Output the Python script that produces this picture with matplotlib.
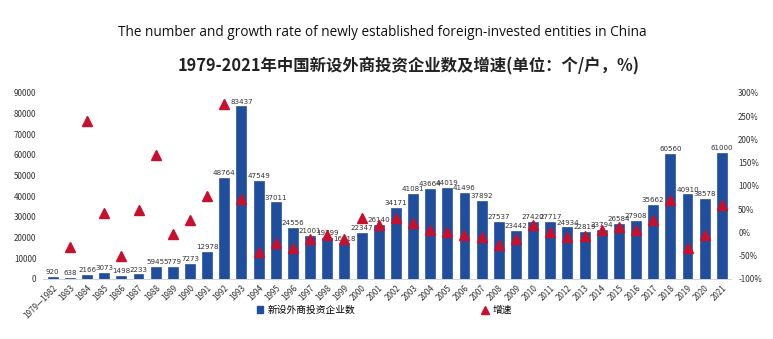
import numpy as np
import matplotlib
matplotlib.use("Agg")
from matplotlib import pyplot as plt
from matplotlib.ticker import FuncFormatter
from matplotlib.lines import Line2D
from matplotlib.patches import Patch

plt.rcParams['font.family'] = ['Noto Sans CJK SC', 'DejaVu Sans']

years = ["1979—1982", "1983", "1984", "1985", "1986", "1987", "1988", "1989",
         "1990", "1991", "1992", "1993", "1994", "1995", "1996", "1997", "1998",
         "1999", "2000", "2001", "2002", "2003", "2004", "2005", "2006", "2007",
         "2008", "2009", "2010", "2011", "2012", "2013", "2014", "2015", "2016",
         "2017", "2018", "2019", "2020", "2021"]

# 新设外商投资企业数
counts = [920, 638, 2166, 3073, 1498, 2233, 5945, 5779, 7273, 12978, 48764,
          83437, 47549, 37011, 24556, 21001, 19799, 16918, 22347, 26140, 34171,
          41081, 43664, 44019, 41496, 37892, 27537, 23442, 27420, 27717, 24934,
          22819, 23794, 26584, 27908, 35662, 60560, 40910, 38578, 61000]

# 增速 (%), у первой категории нет
growth = [np.nan, -30.7, 239.5, 41.9, -51.3, 49.1, 166.2, -2.8, 25.9, 78.4,
          275.7, 71.1, -43.0, -22.2, -33.7, -14.5, -5.7, -14.6, 32.1, 17.0,
          30.7, 20.2, 6.3, 0.8, -5.7, -8.7, -27.3, -14.9, 17.0, 1.1, -10.0,
          -8.5, 4.3, 11.7, 5.0, 27.8, 69.8, -32.4, -5.7, 58.1]

blue = '#1f4e9e'
red = '#c8102e'

fig = plt.figure(figsize=(7.73, 3.39), dpi=100)
ax = fig.add_axes([0.056, 0.177, 0.89, 0.549])
x = np.arange(len(years))

ax.bar(x, counts, width=0.58, color=blue, edgecolor='#163c80', linewidth=0.4, zorder=2)
for xi, v in zip(x, counts):
    ax.text(xi, v + 900, str(v), ha='center', va='bottom', fontsize=5.1,
            color='#333333', family='DejaVu Sans')

ax.set_ylim(0, 90000)
ax.set_xlim(-0.55, len(years) - 0.45)
ax.set_yticks(range(0, 90001, 10000))
ax.tick_params(axis='y', labelsize=5.8, length=0, pad=5, colors='#333333')
ax.set_xticks(x)
ax.set_xticklabels(years, rotation=45, ha='right', rotation_mode='anchor',
                   fontsize=5.8, color='#333333')
ax.tick_params(axis='x', length=0, pad=3)
for s in ['top', 'right', 'left']:
    ax.spines[s].set_visible(False)
ax.spines['bottom'].set_color('#cccccc')
ax.spines['bottom'].set_linewidth(0.6)

ax2 = ax.twinx()
ax2.plot(x, growth, linestyle='none', marker='^', markersize=6.5,
         color=red, zorder=3)
ax2.set_ylim(-100, 300)
ax2.set_yticks(range(-100, 301, 50))
ax2.yaxis.set_major_formatter(FuncFormatter(lambda v, p: f"{int(v)}%"))
ax2.tick_params(axis='y', labelsize=5.8, length=0, pad=5, colors='#333333')
for s in ['top', 'right', 'left', 'bottom']:
    ax2.spines[s].set_visible(False)

fig.text(0.494, 0.905, "The number and growth rate of newly established foreign-invested entities in China",
         ha='center', va='center', fontsize=9.8, family='Open Sans', color='#111111')
fig.text(0.528, 0.805, "1979-2021年中国新设外商投资企业数及增速(单位：个/户，%)",
         ha='center', va='center', fontsize=11.8, fontweight='bold', color='#222222')

handles = [Patch(color=blue, label='新设外商投资企业数'),
           Line2D([], [], linestyle='none', marker='^', color=red, markersize=6, label='增速')]
fig.legend(handles=handles, loc='center', bbox_to_anchor=(0.497, 0.085), ncol=2,
           frameon=False, fontsize=7, columnspacing=13, handlelength=0.7,
           handletextpad=0.4)

fig.savefig("out.png", dpi=100)
